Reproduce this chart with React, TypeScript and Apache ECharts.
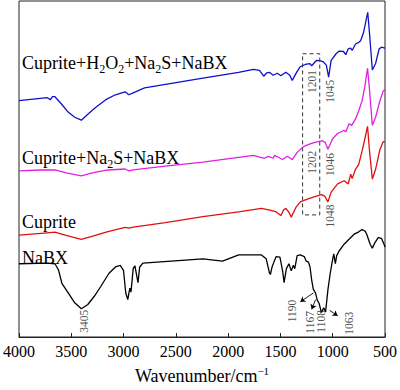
import React, { useEffect, useRef } from "react";
import * as echarts from "echarts";

// Spectra: [wavenumber (cm-1), relative transmittance (offset, arbitrary units)]
const blueData = [[4000,242],[3730,245],[3700,243],[3680,246],[3656,246],[3590,238],[3528,230],[3467,225],[3404,222],[3342,228],[3280,234],[3170,243],[3078,248],[2985,251],[2950,248],[2908,250],[2799,255],[2241,265],[1900,271],[1759,274],[1700,273],[1660,267],[1630,270.5],[1605,271],[1570,268],[1530,270],[1496,267.5],[1449,271],[1410,268],[1387,262.7],[1340,272],[1310,276.7],[1263,279],[1220,280],[1201,277.7],[1154,283.3],[1117,282.7],[1093,282],[1061,278.3],[1039,266],[1015,283.3],[968,290],[937,292.7],[897,292.3],[875,289],[851,295],[828,295.7],[814,293.3],[782,300],[751,301.7],[733,303.3],[705,311.7],[680,325],[665,332.3],[649,312],[621,273.3],[590,280],[556,295],[534,296.7],[500,295.7]];
const magentaData = [[4000,170],[3800,171],[3656,171],[3550,168],[3404,165],[3300,168],[3150,171],[2985,172],[2950,170],[2908,171],[2600,175],[2241,179],[1900,184],[1759,186],[1654,183],[1617,185],[1570,183],[1557,186],[1520,184],[1480,181.7],[1434,185],[1387,181.7],[1340,189],[1279,195],[1217,197.7],[1170,199.3],[1139,200],[1098,201],[1070,199],[1046,192.3],[1000,203.3],[953,208.3],[891,211.7],[875,210],[844,218.3],[819,216.7],[782,223.3],[751,231.7],[720,241.7],[695,255],[667,275],[652,258.3],[621,216.7],[590,225],[549,241.7],[518,251.7],[500,253.3]];
const redData = [[4000,104.3],[3730,106.7],[3656,107.3],[3550,104],[3404,100],[3311,102.7],[3150,108],[2985,112.3],[2948,111.5],[2908,112.5],[2600,117],[2241,123.3],[1900,128],[1682,131.7],[1600,130],[1540,128],[1496,124.3],[1470,130],[1449,131.7],[1420,128],[1396,122.7],[1350,133],[1310,138.3],[1250,141],[1186,143.3],[1108,145.7],[1077,144.3],[1046,138.3],[1015,148.3],[953,156.7],[891,160],[851,156.7],[828,166.7],[814,162.3],[782,171.7],[751,176.7],[720,190],[695,201.7],[667,215.7],[649,191.7],[621,161.7],[590,171.7],[549,191.7],[518,200],[500,200]];
const blackData = [[4000,75],[3730,75.7],[3656,75],[3621,68.3],[3590,55],[3528,45],[3467,35],[3404,29],[3342,33.3],[3280,41.7],[3218,51.7],[3141,65],[3078,71.7],[3032,73.3],[3001,68.3],[2979,45],[2960,38.3],[2940,50],[2929,46],[2908,70],[2892,73],[2862,55.7],[2846,71.7],[2815,75.7],[2241,80],[2054,77.7],[1899,84],[1682,84],[1636,80],[1605,65.7],[1596,64],[1580,71.7],[1542,82.3],[1505,81.7],[1480,68.3],[1465,55.7],[1443,70],[1419,75],[1396,67.7],[1378,73.3],[1363,70],[1340,83.3],[1310,84],[1272,82.3],[1254,77.7],[1232,76.7],[1217,71.7],[1201,58.3],[1186,49],[1164,45],[1148,37.7],[1130,34.3],[1108,25],[1086,30],[1068,25.7],[1046,48.3],[1024,65],[1000,80],[990,85],[975,75],[962,83.3],[937,88.3],[891,95],[844,100],[798,105],[751,107.7],[720,110],[689,108.3],[674,105],[642,95],[621,91],[596,96.7],[565,101.7],[534,101],[509,95],[500,92]];

const xTicks = { min: 500, max: 4000, step: 500 };

// Peak annotations: label, wavenumber position, vertical position
const annTexts = ["1201","1045","1202","1046","1048","3405","1190","1167","1108","1063"];
const annW = [1201,1030,1201,1030,1030,3383,1387,1217,1108,844];
const annY = [261.7,251.7,179,176.7,124,16,26.7,15,16,14];

// Arrows from curve to label: [fromW, fromY, toW, toY]
const arrows = [[1186,45,1310,36],[1164,38.3,1201,28.3],[1030,27.3,953,21.7]];
// Dashed highlight box: [w1, y1, w2, y2]
const boxArea = [1288,290,1124,125];

const serif = "'Liberation Serif', 'Times New Roman', serif";

export default function App() {
  const ref = useRef<HTMLDivElement>(null);
  useEffect(() => {
    if (!ref.current) return;
    document.body.style.margin = "0";
    const chart = echarts.init(ref.current, null, { renderer: "svg" });
    const rich = {
      a: { fontSize: 18, fontFamily: serif, color: "#000", lineHeight: 24 },
      s: { fontSize: 12, fontFamily: serif, color: "#000", lineHeight: 13, verticalAlign: "bottom" },
    };
    const mkLabel = (text: string, x: number, y: number) => ({
      type: "text",
      x,
      y,
      style: { text, rich, verticalAlign: "middle", align: "left" },
    });
    chart.setOption({
      animation: false,
      grid: { left: 11, right: 13, top: 1, bottom: 45, show: true, borderColor: "#222", borderWidth: 1 },
      xAxis: {
        type: "value",
        inverse: true,
        min: xTicks.min,
        max: xTicks.max,
        interval: xTicks.step,
        name: "Wavenumber/cm{sup|−1}",
        nameLocation: "middle",
        nameGap: 28,
        nameTextStyle: {
          fontFamily: serif, fontSize: 18, color: "#000",
          rich: { sup: { fontFamily: serif, fontSize: 11, color: "#000", verticalAlign: "top", lineHeight: 22 } },
        },
        axisLine: { lineStyle: { color: "#222", width: 1 } },
        axisTick: { inside: true, length: 4, lineStyle: { color: "#222" } },
        axisLabel: {
          fontFamily: serif, fontSize: 16, color: "#000", margin: 6,
          showMinLabel: true, showMaxLabel: true,
          formatter: (v: number) => String(v),
        },
        splitLine: { show: false },
      },
      yAxis: { type: "value", min: 0, max: 344, show: false },
      series: [
        { type: "line", data: blueData, showSymbol: false, lineStyle: { color: "#1010c8", width: 1.3 }, silent: true },
        { type: "line", data: magentaData, showSymbol: false, lineStyle: { color: "#e020e0", width: 1.3 }, silent: true },
        { type: "line", data: redData, showSymbol: false, lineStyle: { color: "#e01010", width: 1.3 }, silent: true },
        {
          type: "line", data: blackData, showSymbol: false, lineStyle: { color: "#000", width: 1.3 }, silent: true,
          markArea: {
            silent: true,
            itemStyle: { color: "transparent", borderColor: "#333", borderWidth: 1, borderType: [4, 3] },
            data: [[{ coord: [boxArea[0], boxArea[1]] }, { coord: [boxArea[2], boxArea[3]] }]],
          },
          markLine: {
            silent: true,
            symbol: ["none", "arrow"],
            symbolSize: 5,
            label: { show: false },
            lineStyle: { color: "#000", width: 0.9, type: "solid" },
            data: arrows.map((a) => [{ coord: [a[0], a[1]] }, { coord: [a[2], a[3]] }]),
          },
        },
        {
          type: "scatter",
          symbolSize: 0,
          silent: true,
          data: annTexts.map((t, i) => ({ name: t, value: [annW[i], annY[i]] })),
          label: {
            show: true, position: "inside", rotate: 90, formatter: "{b}",
            fontFamily: serif, fontSize: 11.5, color: "#222",
          },
        },
      ],
      graphic: [
        mkLabel("{a|Cuprite+H}{s|2}{a|O}{s|2}{a|+Na}{s|2}{a|S+NaBX}", 22, 63),
        mkLabel("{a|Cuprite+Na}{s|2}{a|S+NaBX}", 22, 157.5),
        mkLabel("{a|Cuprite}", 22, 222),
        mkLabel("{a|NaBX}", 22, 258),
      ],
    });
    return () => chart.dispose();
  }, []);
  return <div ref={ref} style={{ width: 400, height: 390 }} />;
}
